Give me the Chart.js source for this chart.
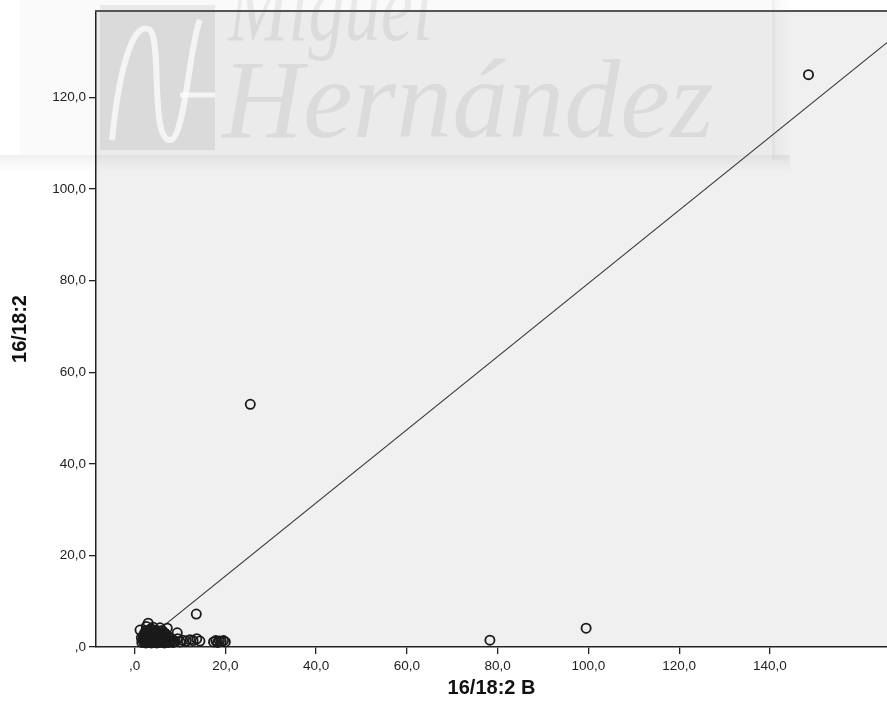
<!DOCTYPE html>
<html>
<head>
<meta charset="utf-8">
<script src="https://cdn.jsdelivr.net/npm/chart.js@4"></script>
<style>
  html, body { margin: 0; padding: 0; background: #fff; }
  canvas { display: block; }
</style>
</head>
<body>
<canvas id="chart" width="887" height="715"></canvas>
<script>
// values: x = 16/18:2 B, y = 16/18:2
const pointsX = [
  1.6, 2.1, 2.5, 2.9, 3.3, 3.7, 4.1, 4.5, 4.9, 5.3, 5.7, 6.1, 6.6, 7.0, 7.5, 8.0, 8.5,
  1.8, 2.3, 2.7, 3.1, 3.5, 3.9, 4.3, 4.7, 5.1, 5.5, 5.9, 6.3, 6.8, 7.3, 7.8, 8.3,
  1.5, 2.0, 2.4, 2.8, 3.2, 3.6, 4.0, 4.4, 4.8, 5.2, 5.6, 6.0, 6.5, 7.0, 7.6,
  1.9, 2.6, 3.0, 3.4, 3.8, 4.2, 4.6, 5.0, 5.4, 5.8, 6.2, 6.9,
  2.2, 2.8, 3.3, 3.9, 4.4, 4.9, 5.5, 6.0, 6.7, 9.4,
  1.2, 2.5, 3.1, 3.8, 4.6, 5.3, 6.1,
  3.0, 2.6, 4.1, 5.6, 7.2, 3.6,
  9.0, 9.5, 10.0,
  10.6, 11.4, 12.2, 12.9, 13.7, 14.4,
  17.4, 17.9, 18.3, 18.7, 19.1, 19.6, 20.0,
  13.6, 25.5, 78.3, 99.5, 148.5
];
const pointsY = [
  1.0, 1.1, 0.9, 1.0, 1.2, 0.9, 1.0, 1.1, 0.9, 1.0, 1.2, 1.0, 0.9, 1.1, 1.0, 1.2, 1.0,
  1.5, 1.6, 1.4, 1.5, 1.7, 1.5, 1.4, 1.6, 1.5, 1.3, 1.6, 1.5, 1.4, 1.6, 1.5, 1.7,
  2.0, 2.1, 1.9, 2.2, 2.0, 1.9, 2.1, 2.0, 2.2, 1.9, 2.0, 2.1, 1.9, 2.0, 2.2,
  2.5, 2.6, 2.4, 2.5, 2.7, 2.5, 2.4, 2.6, 2.5, 2.7, 2.4, 2.6,
  3.0, 3.1, 2.9, 3.0, 3.2, 3.0, 2.9, 3.1, 3.0, 3.1,
  3.7, 3.6, 3.5, 3.7, 3.6, 3.5, 3.6,
  5.2, 4.5, 4.3, 4.2, 4.1, 4.0,
  1.2, 1.8, 1.1,
  1.5, 1.3, 1.6, 1.4, 1.8, 1.3,
  1.1, 1.4, 1.0, 1.3, 1.2, 1.4, 1.1,
  7.2, 53.0, 1.5, 4.1, 125.0
];

// fit line (total), two ends
const fitX = [1.0, 165.8];
const fitY = [0.3, 132.0];

const xTicks = [0, 20, 40, 60, 80, 100, 120, 140];
const xTickLabels = [",0", "20,0", "40,0", "60,0", "80,0", "100,0", "120,0", "140,0"];
const yTicks = [0, 20, 40, 60, 80, 100, 120];
const yTickLabels = [",0", "20,0", "40,0", "60,0", "80,0", "100,0", "120,0"];

const xTitle = "16/18:2 B";
const yTitle = "16/18:2";

// plot background, watermark and top frame
const frame = {
  id: "frame",
  beforeDraw(chart) {
    const ctx = chart.ctx, a = chart.chartArea;
    ctx.save();
    ctx.fillStyle = "#f0f0f0";
    ctx.fillRect(a.left, a.top - 1, a.right - a.left, a.bottom - a.top + 1);

    // faded logo (Miguel Hernández)
    ctx.fillStyle = "rgba(0,0,0,0.02)";
    ctx.fillRect(20, 0, 755, 155);
    let g = ctx.createLinearGradient(0, 155, 0, 172);
    g.addColorStop(0, "rgba(0,0,0,0.06)");
    g.addColorStop(1, "rgba(0,0,0,0)");
    ctx.fillStyle = g;
    ctx.fillRect(0, 155, 790, 17);
    g = ctx.createLinearGradient(772, 0, 792, 0);
    g.addColorStop(0, "rgba(0,0,0,0.04)");
    g.addColorStop(1, "rgba(0,0,0,0)");
    ctx.fillStyle = g;
    ctx.fillRect(772, 0, 20, 160);

    ctx.fillStyle = "rgba(0,0,0,0.07)";
    ctx.fillRect(100, 5, 115, 145);
    ctx.strokeStyle = "rgba(255,255,255,0.7)";
    ctx.lineWidth = 6;
    ctx.beginPath();
    ctx.moveTo(112, 140);
    ctx.bezierCurveTo(120, 60, 135, 20, 150, 30);
    ctx.bezierCurveTo(162, 40, 150, 140, 170, 140);
    ctx.bezierCurveTo(185, 140, 190, 40, 200, 20);
    ctx.stroke();
    ctx.lineWidth = 5;
    ctx.beginPath();
    ctx.moveTo(180, 95); ctx.lineTo(215, 95);
    ctx.stroke();

    ctx.fillStyle = "rgba(0,0,0,0.065)";
    ctx.textBaseline = "alphabetic";
    ctx.font = "italic 100px 'Liberation Serif'";
    ctx.fillText("Miguel", 228, 40, 205);
    ctx.font = "italic 112px 'Liberation Serif'";
    ctx.fillText("Hernández", 222, 137, 510);
    ctx.restore();
  },
  afterDraw(chart) {
    const ctx = chart.ctx, a = chart.chartArea;
    ctx.save();
    ctx.strokeStyle = "#555";
    ctx.lineWidth = 2;
    ctx.beginPath();
    ctx.moveTo(a.left - 1, a.top);
    ctx.lineTo(a.right, a.top);
    ctx.stroke();
    ctx.restore();
  }
};

const tickFont = { family: "'Liberation Sans', Arial, sans-serif", size: 13.5 };
const titleFont = { family: "'Liberation Sans', Arial, sans-serif", size: 20, weight: "bold" };

new Chart(document.getElementById("chart"), {
  type: "scatter",
  data: {
    datasets: [
      {
        type: "line",
        data: fitX.map((x, i) => ({ x: x, y: fitY[i] })),
        borderColor: "#333",
        borderWidth: 1.2,
        pointRadius: 0,
        fill: false,
        order: 2
      },
      {
        data: pointsX.map((x, i) => ({ x: x, y: pointsY[i] })),
        pointStyle: "circle",
        pointRadius: 4.6,
        borderWidth: 1.8,
        borderColor: "#1a1a1a",
        backgroundColor: "rgba(0,0,0,0)",
        clip: false,
        order: 1
      }
    ]
  },
  options: {
    responsive: false,
    animation: false,
    devicePixelRatio: 1,
    layout: { autoPadding: false, padding: { top: 11, right: 0, left: 0, bottom: 0 } },
    plugins: { legend: { display: false }, tooltip: { enabled: false } },
    scales: {
      x: {
        type: "linear",
        min: -8.5,
        max: 165.8,
        afterFit(s) { s.height = 68; s.paddingLeft = 0; s.paddingRight = 0; },
        afterBuildTicks(s) { s.ticks = xTicks.map(v => ({ value: v })); },
        ticks: {
          callback: (v, i) => xTickLabels[i],
          color: "#222",
          font: tickFont,
          padding: 4,
          maxRotation: 0,
          autoSkip: false
        },
        grid: { drawOnChartArea: false, drawTicks: true, tickLength: 7, color: "#222", lineWidth: 1.3 },
        border: { display: true, color: "#222", width: 1.5 },
        title: { display: true, text: xTitle, color: "#111", font: titleFont, padding: { top: 0, bottom: 15 } }
      },
      y: {
        type: "linear",
        min: 0,
        max: 138.9,
        afterFit(s) { s.width = 96; s.paddingTop = 0; s.paddingBottom = 0; },
        afterBuildTicks(s) { s.ticks = yTicks.map(v => ({ value: v })); },
        ticks: {
          callback: (v, i) => yTickLabels[i],
          color: "#222",
          font: tickFont,
          padding: 3,
          autoSkip: false
        },
        grid: { drawOnChartArea: false, drawTicks: true, tickLength: 7, color: "#222", lineWidth: 1.3 },
        border: { display: true, color: "#222", width: 1.5 },
        title: { display: true, text: yTitle, color: "#111", font: titleFont, padding: { top: 8, bottom: 0 } }
      }
    }
  },
  plugins: [frame]
});
</script>
</body>
</html>
